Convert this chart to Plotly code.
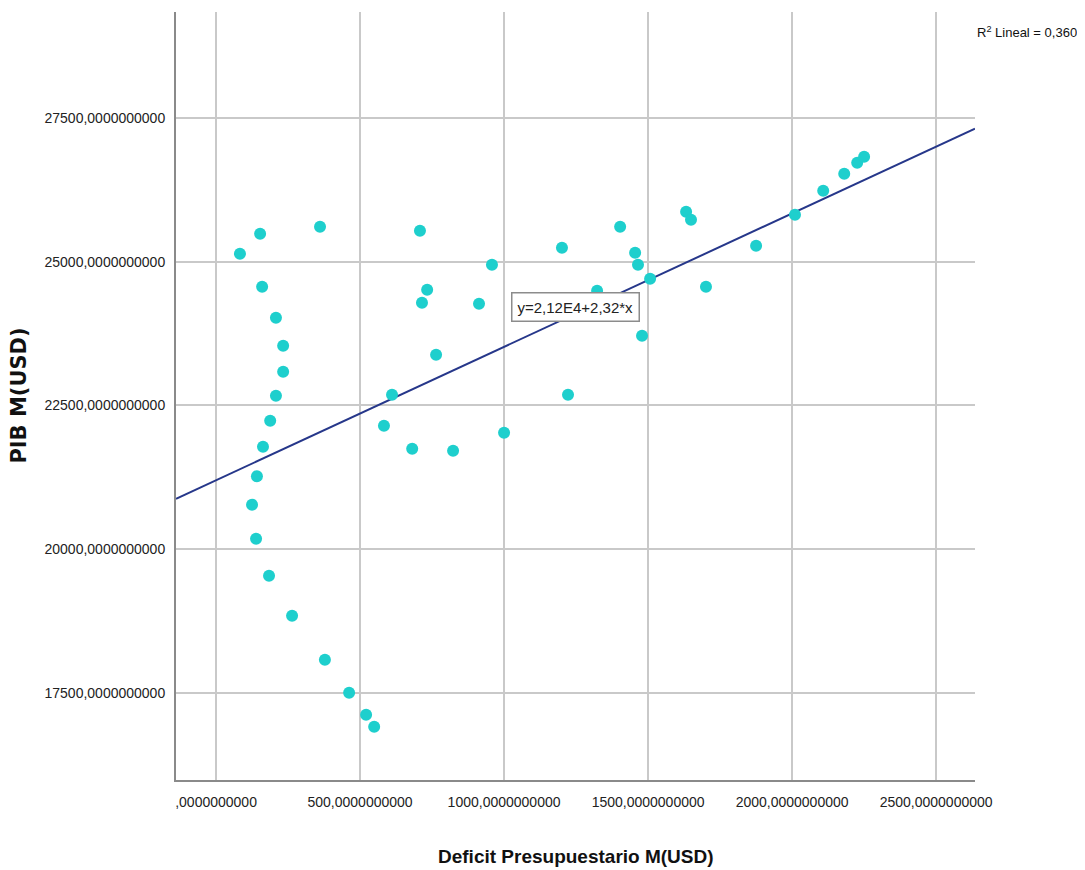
import plotly.graph_objects as go
import numpy as np

# Data
deficit = [83, 153, 361, 160, 208, 233, 233, 208, 188, 163, 142, 125, 139, 184, 264, 378, 462, 521, 549,
           708, 715, 733, 764, 611, 583, 681, 823, 913, 958, 1000, 1201, 1222, 1323, 1403, 1455, 1465,
           1507, 1479, 1632, 1649, 1701, 1875, 2010, 2108, 2181, 2226, 2250]
pib = [25139, 25487, 25609, 24565, 24026, 23539, 23087, 22670, 22235, 21783, 21270, 20774, 20183, 19539,
       18843, 18078, 17504, 17122, 16913,
       25539, 24287, 24513, 23383, 22687, 22148, 21748, 21713, 24270, 24948, 22026, 25243, 22687, 24496,
       25609, 25157, 24948, 24704, 23713, 25870, 25730, 24565, 25278, 25817, 26235, 26530, 26722, 26826]

intercept = 21200.0
slope = 2.32
r2_label = "R<sup>2</sup> Lineal = 0,360"
eq_label = "y=2,12E4+2,32*x"

x_tickvals = [0, 500, 1000, 1500, 2000, 2500]
x_ticktext = [",0000000000", "500,0000000000", "1000,0000000000", "1500,0000000000",
              "2000,0000000000", "2500,0000000000"]
y_tickvals = [17500, 20000, 22500, 25000, 27500]
y_ticktext = ["17500,0000000000", "20000,0000000000", "22500,0000000000",
              "25000,0000000000", "27500,0000000000"]

x_range = [-139, 2635]
y_range = [15987, 29343]

fig = go.Figure()

line_x = np.array(x_range, dtype=float)
line_y = intercept + slope * line_x
fig.add_trace(go.Scatter(x=line_x, y=line_y, mode="lines",
                         line=dict(color="#26378a", width=2), hoverinfo="skip"))

fig.add_trace(go.Scatter(x=deficit, y=pib, mode="markers",
                         marker=dict(color="#1ecfcd", size=12, line=dict(width=0))))

fig.add_annotation(x=1247, y=24217, xref="x", yref="y", text=eq_label, showarrow=False,
                   font=dict(family="Liberation Sans, Arial", size=15, color="#222"),
                   bgcolor="white", bordercolor="#8c8c8c", borderwidth=1.5, borderpad=5)

fig.add_annotation(x=1.0, y=0.974, xref="paper", yref="paper", xanchor="left", yanchor="middle",
                   text=r2_label, showarrow=False,
                   font=dict(family="Liberation Sans, Arial", size=13, color="#111"))

fig.add_annotation(x=0.5, y=-0.1, xref="paper", yref="paper", xanchor="center", yanchor="middle",
                   text="<b>Deficit Presupuestario M(USD)</b>", showarrow=False,
                   font=dict(family="Liberation Sans, Arial", size=19, color="#111"))

fig.add_annotation(x=-0.197, y=0.5, xref="paper", yref="paper", xanchor="center", yanchor="middle",
                   text="<b>PIB M(USD)</b>", showarrow=False, textangle=-90,
                   font=dict(family="DejaVu Sans, Arial", size=21, color="#111"))

fig.update_xaxes(range=x_range, tickvals=x_tickvals, ticktext=x_ticktext,
                 showgrid=True, gridcolor="#c9c9c9", gridwidth=1.5,
                 showline=True, linecolor="#8a8a8a", linewidth=2,
                 zeroline=False, ticks="", ticklabelstandoff=8,
                 tickfont=dict(family="Liberation Sans, Arial", size=14, color="#222"))
fig.update_yaxes(range=y_range, tickvals=y_tickvals, ticktext=y_ticktext,
                 showgrid=True, gridcolor="#c9c9c9", gridwidth=1.5,
                 showline=True, linecolor="#8a8a8a", linewidth=2,
                 zeroline=False, ticks="", ticklabelstandoff=6,
                 tickfont=dict(family="Liberation Sans, Arial", size=14, color="#222"))

fig.update_layout(width=1077, height=862, showlegend=False,
                  plot_bgcolor="white", paper_bgcolor="white",
                  margin=dict(l=168, r=110, t=4, b=90))

fig.write_html("out.html")
